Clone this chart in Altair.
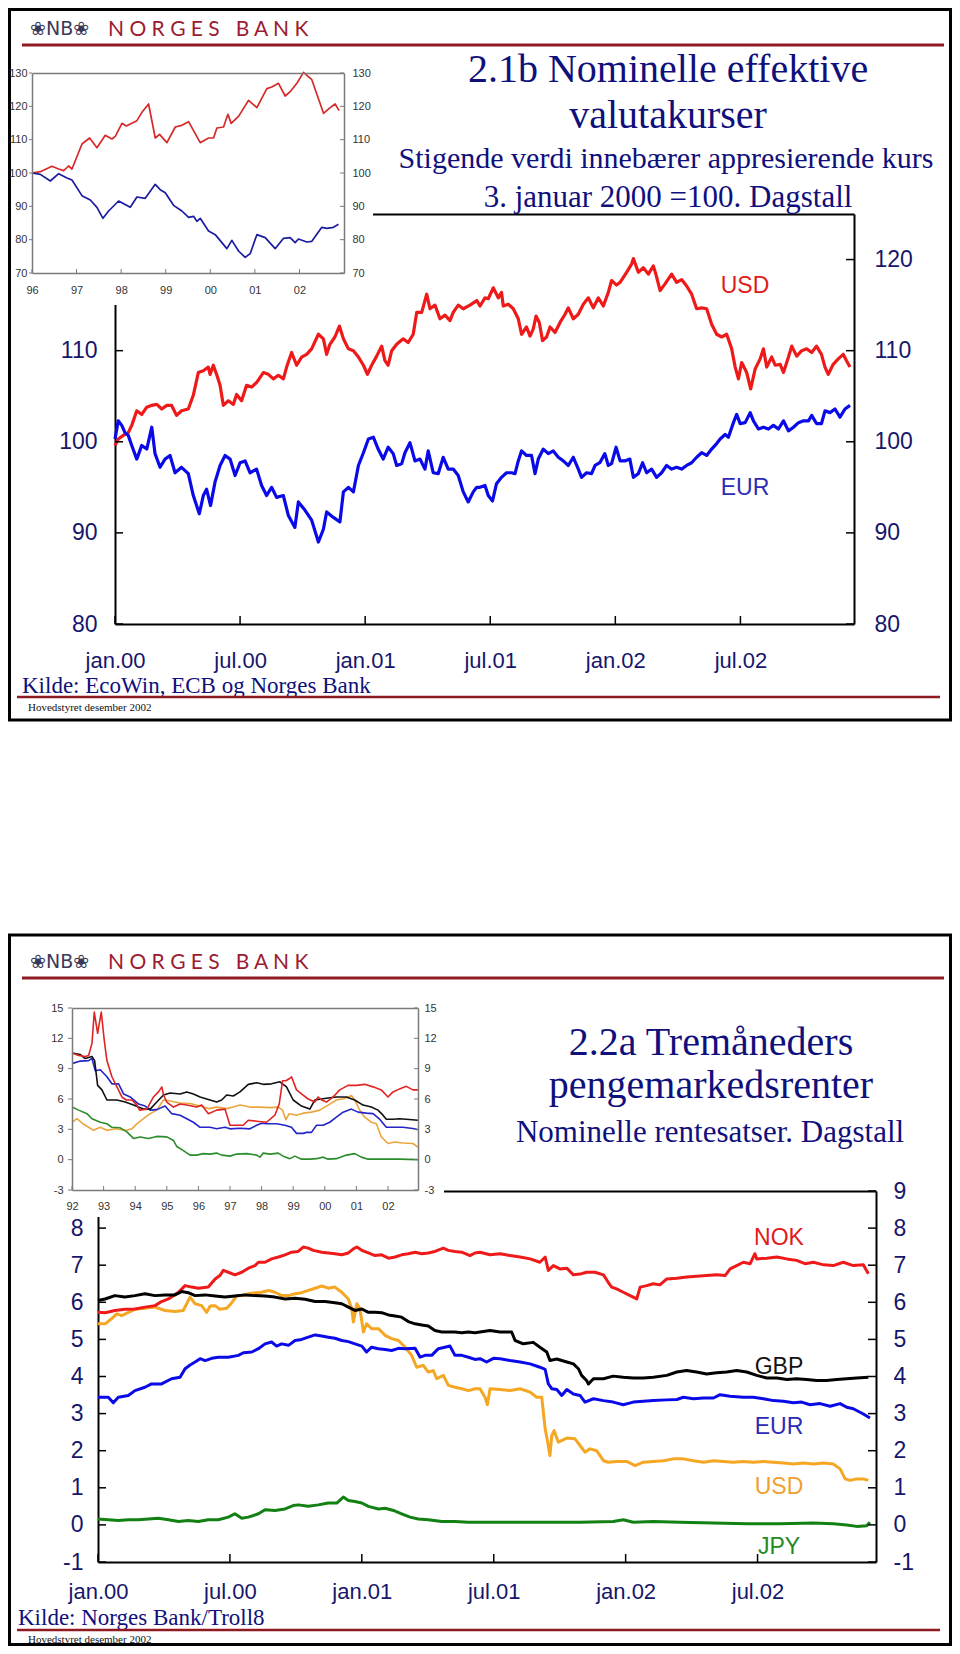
import altair as alt
import pandas as pd

# ======================= DATA =======================
# --- Slide 2.1b, inset (1996-2002), index ---
I1_XTICKS = [1996, 1997, 1998, 1999, 2000, 2001, 2002]
I1_YTICKS = [70, 80, 90, 100, 110, 120, 130]
I1_USD_T = [1996.000, 1996.187, 1996.448, 1996.598, 1996.710, 1996.822, 1996.897,
            1997.121, 1997.293, 1997.457, 1997.644, 1997.794, 1997.868,
            1998.018, 1998.115, 1998.354, 1998.466, 1998.616, 1998.765, 1998.862,
            1999.027, 1999.214, 1999.363, 1999.513, 1999.774, 1999.961,
            2000.073, 2000.148, 2000.297, 2000.395, 2000.469, 2000.634, 2000.858,
            2001.045, 2001.269, 2001.381, 2001.531, 2001.680, 2001.792, 2001.942,
            2002.091, 2002.278, 2002.540, 2002.689, 2002.801, 2002.891]
I1_USD = [100.0, 100.4, 102.0, 101.2, 100.7, 102.1, 101.2,
          108.7, 110.5, 107.6, 111.3, 110.2, 111.0,
          114.9, 114.1, 115.7, 118.2, 120.7, 110.5, 111.6,
          109.1, 113.8, 114.3, 115.4, 109.1, 110.5,
          110.5, 113.5, 113.8, 117.6, 114.9, 117.0, 121.8,
          119.6, 125.3, 125.8, 126.9, 123.1, 124.4, 126.9,
          130.2, 128.0, 117.9, 119.6, 120.7, 118.7]
I1_EUR_T = [1996.000, 1996.187, 1996.411, 1996.598, 1996.785, 1996.897,
            1997.121, 1997.308, 1997.457, 1997.592, 1997.719, 1997.943,
            1998.205, 1998.354, 1998.541, 1998.765, 1998.877, 1998.990,
            1999.176, 1999.363, 1999.513, 1999.625, 1999.700, 1999.774, 1999.961,
            2000.111, 2000.372, 2000.484, 2000.634, 2000.783, 2000.895,
            2001.045, 2001.232, 2001.456, 2001.643, 2001.792, 2001.904, 2001.979,
            2002.166, 2002.278, 2002.502, 2002.614, 2002.764, 2002.876]
I1_EUR = [100.0, 99.6, 97.6, 99.8, 98.5, 97.9,
          93.2, 91.9, 89.7, 86.4, 88.6, 91.6,
          89.7, 92.8, 92.4, 96.6, 95.0, 94.1,
          90.3, 88.6, 86.7, 87.0, 85.5, 86.4, 82.6,
          81.5, 77.3, 79.8, 76.6, 74.7, 75.8,
          81.5, 80.6, 77.3, 80.4, 80.6, 79.1, 80.2,
          79.3, 79.5, 83.7, 83.4, 83.7, 84.6]

# --- Slide 2.1b, main chart (daily, 3 Jan 2000 = 100) ---
MAIN_XTICKS = [2000, 2000.5, 2001, 2001.5, 2002, 2002.5]
MAIN_XLABELS = ["jan.00", "jul.00", "jan.01", "jul.01", "jan.02", "jul.02"]
M1_YTICKS = [80, 90, 100, 110, 120]
M1_YLABELS_LEFT = [80, 90, 100, 110]
M1_USD_T = [
    2000.000, 2000.013, 2000.033, 2000.053, 2000.067, 2000.087, 2000.107, 2000.127, 2000.147, 2000.167,
    2000.187, 2000.207, 2000.226, 2000.246, 2000.266, 2000.293, 2000.313, 2000.333, 2000.353, 2000.373,
    2000.380, 2000.393, 2000.406, 2000.420, 2000.433, 2000.453, 2000.473, 2000.486, 2000.506, 2000.526,
    2000.546, 2000.566, 2000.593, 2000.613, 2000.633, 2000.653, 2000.673, 2000.686, 2000.706, 2000.726,
    2000.746, 2000.766, 2000.786, 2000.813, 2000.833, 2000.846, 2000.859, 2000.879, 2000.897, 2000.913,
    2000.933, 2000.953, 2000.973, 2000.993, 2001.009, 2001.026, 2001.046, 2001.066, 2001.079, 2001.092,
    2001.106, 2001.126, 2001.152, 2001.172, 2001.192, 2001.206, 2001.226, 2001.246, 2001.259, 2001.279,
    2001.299, 2001.319, 2001.339, 2001.352, 2001.372, 2001.392, 2001.419, 2001.446,
    2001.459, 2001.479, 2001.492, 2001.512, 2001.532, 2001.545, 2001.552, 2001.572, 2001.592, 2001.612,
    2001.625, 2001.645, 2001.659, 2001.672, 2001.683, 2001.696, 2001.709, 2001.725, 2001.739, 2001.759,
    2001.779, 2001.799, 2001.812, 2001.832, 2001.852, 2001.872, 2001.892, 2001.912, 2001.932, 2001.952,
    2001.972, 2001.985, 2002.005, 2002.019, 2002.045, 2002.065, 2002.072, 2002.092, 2002.112, 2002.132,
    2002.152, 2002.162, 2002.179, 2002.198, 2002.225, 2002.245, 2002.265, 2002.285, 2002.305, 2002.325,
    2002.345, 2002.365, 2002.385, 2002.405, 2002.425, 2002.445, 2002.465, 2002.479, 2002.492, 2002.505,
    2002.525, 2002.541, 2002.559, 2002.579, 2002.592, 2002.605, 2002.625, 2002.639, 2002.659, 2002.672,
    2002.692, 2002.705, 2002.725, 2002.745, 2002.765, 2002.785, 2002.804, 2002.824, 2002.838, 2002.851,
    2002.871, 2002.891, 2002.911, 2002.924, 2002.938]
M1_USD = [
    99.6, 100.3, 100.7, 101.0, 101.8, 103.4, 103.0, 103.8, 104.0, 104.1,
    103.6, 104.0, 104.0, 102.9, 103.4, 103.6, 105.1, 107.6, 107.8, 108.2,
    107.4, 108.4, 107.4, 106.2, 104.0, 104.5, 104.1, 105.2, 104.5, 106.2,
    106.0, 106.5, 107.6, 107.4, 106.9, 107.3, 106.9, 108.2, 109.8, 108.4,
    109.3, 109.6, 110.2, 111.8, 111.3, 109.6, 110.7, 111.5, 112.7, 111.3,
    110.2, 110.0, 109.3, 108.4, 107.4, 108.4, 109.4, 110.5, 108.9, 108.4,
    110.0, 110.7, 111.3, 110.9, 111.8, 114.2, 114.2, 116.2, 114.6, 115.0,
    113.5, 113.9, 113.3, 114.2, 115.0, 114.6, 115.0, 115.5,
    114.9, 115.8, 115.7, 116.9, 115.8, 116.4, 114.9, 115.1, 114.6, 113.5,
    111.8, 112.6, 111.6, 112.4, 113.8, 113.1, 111.1, 111.5, 112.6, 112.0,
    113.1, 114.0, 114.7, 113.5, 114.0, 115.1, 115.8, 114.7, 115.8, 114.9,
    116.4, 117.7, 117.2, 117.5, 118.6, 119.5, 120.1, 118.6, 119.1, 118.4,
    119.3, 118.4, 116.6, 117.3, 118.4, 117.5, 117.8, 117.1, 116.2, 114.6,
    114.7, 114.6, 112.9, 111.8, 111.5, 111.8, 110.2, 108.2, 106.9, 108.7,
    107.6, 105.8, 108.0, 109.1, 110.2, 108.2, 109.3, 108.4, 108.5, 107.6,
    109.3, 110.5, 109.4, 110.0, 110.2, 109.8, 110.5, 109.6, 108.2, 107.4,
    108.5, 109.1, 109.6, 108.9, 108.2]
M1_EUR_T = [
    2000.000, 2000.013, 2000.027, 2000.040, 2000.053, 2000.067, 2000.087, 2000.107, 2000.127, 2000.147,
    2000.160, 2000.180, 2000.200, 2000.220, 2000.240, 2000.266, 2000.293, 2000.313, 2000.337, 2000.353,
    2000.366, 2000.382, 2000.400, 2000.420, 2000.440, 2000.460, 2000.480, 2000.500, 2000.520, 2000.540,
    2000.566, 2000.586, 2000.606, 2000.626, 2000.646, 2000.673, 2000.693, 2000.719, 2000.733, 2000.759,
    2000.786, 2000.813, 2000.833, 2000.846, 2000.873, 2000.899, 2000.913, 2000.933, 2000.953, 2000.973,
    2000.993, 2001.013, 2001.033, 2001.052, 2001.072, 2001.092, 2001.112, 2001.126, 2001.146, 2001.159,
    2001.179, 2001.199, 2001.219, 2001.239, 2001.252, 2001.272, 2001.292, 2001.312, 2001.332, 2001.352,
    2001.372, 2001.392, 2001.412, 2001.432, 2001.446,
    2001.459, 2001.479, 2001.492, 2001.509, 2001.525, 2001.545, 2001.565, 2001.585, 2001.599, 2001.612,
    2001.625, 2001.645, 2001.665, 2001.679, 2001.692, 2001.712, 2001.732, 2001.752, 2001.772, 2001.792,
    2001.812, 2001.832, 2001.852, 2001.865, 2001.885, 2001.905, 2001.919, 2001.938, 2001.958, 2001.972,
    2001.985, 2002.003, 2002.019, 2002.038, 2002.058, 2002.072, 2002.092, 2002.109, 2002.125, 2002.145,
    2002.165, 2002.185, 2002.205, 2002.225, 2002.245, 2002.265, 2002.285, 2002.305, 2002.325, 2002.345,
    2002.365, 2002.385, 2002.405, 2002.419, 2002.439, 2002.452, 2002.472, 2002.485, 2002.499, 2002.519,
    2002.539, 2002.552, 2002.572, 2002.592, 2002.612, 2002.632, 2002.652, 2002.672, 2002.692, 2002.712,
    2002.732, 2002.752, 2002.772, 2002.785, 2002.804, 2002.824, 2002.838, 2002.858, 2002.878, 2002.898,
    2002.918, 2002.938]
M1_EUR = [
    100.3, 102.3, 101.8, 101.0, 100.7, 99.6, 98.1, 99.6, 99.2, 101.6,
    98.7, 97.2, 98.1, 98.5, 96.6, 97.2, 96.5, 94.1, 92.1, 94.1,
    94.8, 93.0, 95.6, 97.4, 98.5, 98.1, 96.3, 97.7, 97.9, 96.6,
    97.0, 95.2, 94.1, 95.0, 93.9, 94.1, 91.9, 90.6, 93.4, 92.5,
    91.4, 89.0, 90.4, 92.3, 91.7, 91.2, 94.5, 95.0, 94.5, 97.4,
    98.8, 100.3, 100.5, 99.2, 98.1, 99.4, 98.7, 97.4, 97.6, 98.8,
    99.9, 97.9, 98.1, 97.0, 99.0, 96.6, 96.5, 98.3, 97.0, 97.0,
    96.3, 94.5, 93.4, 94.5, 95.0,
    95.0, 95.2, 94.1, 93.5, 95.4, 96.1, 96.6, 96.6, 96.5, 97.9,
    99.0, 98.5, 98.5, 96.5, 98.1, 99.2, 98.7, 99.0, 98.3, 97.9,
    97.4, 98.3, 97.0, 96.1, 96.6, 96.5, 97.4, 97.7, 98.7, 97.4,
    97.6, 99.4, 97.9, 97.9, 98.1, 96.1, 96.5, 97.7, 96.6, 97.0,
    96.1, 96.6, 97.4, 97.0, 97.2, 97.0, 97.4, 97.7, 98.3, 98.8,
    98.5, 99.2, 99.8, 100.3, 100.8, 100.5, 102.1, 103.0, 102.0, 102.1,
    103.2, 102.3, 101.4, 101.6, 101.4, 101.8, 101.4, 102.3, 101.2, 101.6,
    102.1, 102.3, 102.3, 102.9, 102.0, 102.0, 103.4, 103.2, 103.6, 102.7,
    103.6, 104.0]

# --- Slide 2.2a, inset (1992-2002), percent ---
I2_XTICKS = [1992, 1993, 1994, 1995, 1996, 1997, 1998, 1999, 2000, 2001, 2002]
I2_YTICKS = [-3, 0, 3, 6, 9, 12, 15]
I2_NOK_T = [1992.000, 1992.211, 1992.421, 1992.526, 1992.632, 1992.705, 1992.811, 1992.926, 1993.021, 1993.105,
            1993.263, 1993.421, 1993.579, 1993.716, 1993.895, 1994.053, 1994.137, 1994.368, 1994.579, 1994.737,
            1994.842, 1994.895, 1995.000, 1995.211, 1995.421, 1995.632, 1995.947, 1996.105, 1996.316, 1996.579,
            1996.842, 1997.000, 1997.421, 1997.579, 1997.842, 1998.158, 1998.421, 1998.558, 1998.663, 1998.768,
            1998.874, 1998.947, 1999.105, 1999.263, 1999.474, 1999.684, 1999.789, 1999.895, 2000.053, 2000.263,
            2000.474, 2000.737, 2001.000, 2001.263, 2001.526, 2001.789, 2002.000, 2002.158, 2002.368, 2002.579,
            2002.789, 2002.947]
I2_NOK = [10.55, 10.3, 10.2, 10.3, 11.5, 14.6, 12.5, 14.6, 11.8, 9.8,
          8.2, 7.2, 6.2, 5.9, 5.9, 5.4, 4.9, 5.0, 6.2, 6.7,
          7.2, 6.4, 5.7, 5.2, 5.5, 5.4, 5.2, 5.4, 4.55, 4.9,
          5.0, 3.4, 3.4, 3.9, 3.8, 3.7, 4.4, 5.5, 7.8, 7.8,
          8.0, 8.2, 6.9, 6.5, 6.0, 5.7, 6.2, 5.9, 5.7, 6.2,
          6.9, 7.35, 7.35, 7.45, 7.2, 6.9, 6.2, 6.7, 7.0, 7.25,
          6.9, 6.9]
I2_GBP_T = [1992.000, 1992.263, 1992.421, 1992.632, 1992.716, 1992.811, 1992.947, 1993.105, 1993.421, 1993.684,
            1993.947, 1994.263, 1994.474, 1994.684, 1994.895, 1995.105, 1995.421, 1995.632, 1995.842, 1996.053,
            1996.368, 1996.579, 1996.737, 1996.895, 1997.105, 1997.316, 1997.579, 1997.842, 1998.053, 1998.316,
            1998.579, 1998.789, 1999.000, 1999.263, 1999.526, 1999.684, 1999.895, 2000.105, 2000.368, 2000.684,
            2000.947, 2001.211, 2001.474, 2001.684, 2001.842, 2001.947, 2002.158, 2002.368, 2002.579, 2002.947]
I2_GBP = [10.55, 10.4, 10.0, 10.2, 9.8, 7.35, 6.9, 5.9, 5.9, 5.7,
          5.4, 5.0, 5.0, 5.7, 6.4, 6.6, 6.5, 6.7, 6.5, 6.2,
          5.9, 5.7, 5.9, 6.4, 6.3, 6.7, 7.45, 7.6, 7.45, 7.5,
          7.7, 7.2, 5.9, 5.3, 5.0, 5.9, 6.0, 6.1, 6.2, 6.2,
          5.9, 5.4, 5.2, 4.9, 4.4, 4.0, 4.0, 4.05, 4.0, 3.9]
I2_EUR_T = [1992.000, 1992.263, 1992.526, 1992.632, 1992.737, 1992.895, 1993.105, 1993.263, 1993.474, 1993.632,
            1993.842, 1994.105, 1994.316, 1994.474, 1994.684, 1994.947, 1995.158, 1995.421, 1995.632, 1995.842,
            1996.053, 1996.368, 1996.579, 1996.842, 1997.000, 1997.316, 1997.632, 1997.842, 1998.000, 1998.158,
            1998.474, 1998.737, 1998.947, 1999.105, 1999.316, 1999.421, 1999.579, 1999.737, 1999.947, 2000.158,
            2000.368, 2000.579, 2000.842, 2001.053, 2001.316, 2001.526, 2001.737, 2001.947, 2002.158, 2002.474,
            2002.842, 2002.947]
I2_EUR = [9.5, 9.75, 9.8, 10.0, 8.8, 8.9, 8.2, 7.5, 7.5, 6.5,
          6.2, 5.5, 5.3, 4.9, 4.95, 5.3, 4.55, 4.4, 4.05, 3.7,
          3.2, 3.2, 3.05, 3.2, 3.05, 3.1, 3.05, 3.4, 3.6, 3.55,
          3.55, 3.4, 3.2, 2.6, 2.6, 2.7, 2.7, 3.4, 3.4, 3.7,
          4.2, 4.7, 5.0, 4.7, 4.6, 4.55, 4.0, 3.2, 3.2, 3.2,
          3.05, 2.95]
I2_USD_T = [1992.000, 1992.158, 1992.368, 1992.684, 1992.895, 1993.105, 1993.368, 1993.737, 1993.895, 1994.053,
            1994.263, 1994.474, 1994.684, 1994.895, 1995.105, 1995.421, 1995.737, 1996.053, 1996.316, 1996.579,
            1996.895, 1997.105, 1997.316, 1997.632, 1997.947, 1998.263, 1998.526, 1998.663, 1998.768, 1998.874,
            1999.105, 1999.316, 1999.579, 1999.842, 2000.105, 2000.368, 2000.632, 2000.842, 2000.947, 2001.105,
            2001.263, 2001.474, 2001.632, 2001.789, 2002.000, 2002.211, 2002.474, 2002.789, 2002.947]
I2_USD = [3.7, 4.05, 3.5, 2.9, 3.2, 2.9, 3.05, 2.9, 3.05, 3.55,
          4.05, 4.55, 4.9, 5.9, 5.8, 5.6, 5.55, 5.3, 5.05, 5.2,
          5.05, 5.2, 5.4, 5.2, 5.2, 5.15, 5.2, 4.9, 3.95, 4.55,
          4.4, 4.6, 4.7, 4.9, 5.4, 5.9, 6.05, 6.35, 5.9, 4.9,
          4.2, 3.7, 3.55, 2.25, 1.6, 1.75, 1.65, 1.6, 1.25]
I2_JPY_T = [1992.000, 1992.211, 1992.474, 1992.632, 1992.895, 1993.105, 1993.263, 1993.526, 1993.737, 1993.947,
            1994.158, 1994.421, 1994.684, 1995.000, 1995.211, 1995.316, 1995.526, 1995.737, 1995.947, 1996.158,
            1996.368, 1996.579, 1996.737, 1997.000, 1997.211, 1997.526, 1997.842, 1997.947, 1998.053, 1998.263,
            1998.526, 1998.684, 1998.895, 1999.053, 1999.263, 1999.526, 1999.737, 1999.947, 2000.105, 2000.368,
            2000.684, 2000.947, 2001.158, 2001.368, 2001.842, 2002.368, 2002.947]
I2_JPY = [5.2, 4.9, 4.55, 4.05, 3.7, 3.55, 3.2, 3.15, 2.75, 2.1,
          2.25, 2.1, 2.3, 2.25, 1.9, 1.3, 0.9, 0.45, 0.45, 0.6,
          0.55, 0.65, 0.45, 0.35, 0.55, 0.6, 0.45, 0.25, 0.65, 0.55,
          0.65, 0.35, 0.1, 0.35, 0.05, 0.05, 0.1, 0.25, 0.05, 0.1,
          0.45, 0.6, 0.25, 0.05, 0.05, 0.05, 0.0]

# --- Slide 2.2a, main chart (daily 3-month rates) ---
M2_YTICKS = [-1, 0, 1, 2, 3, 4, 5, 6, 7, 8, 9]
M2_YLABELS_LEFT = [-1, 0, 1, 2, 3, 4, 5, 6, 7, 8]
M2_NOK_T = [
    2000.000, 2000.027, 2000.064, 2000.102, 2000.140, 2000.178, 2000.216, 2000.241, 2000.267, 2000.305,
    2000.330, 2000.355, 2000.380, 2000.418, 2000.444, 2000.462, 2000.475, 2000.494, 2000.519, 2000.545,
    2000.570, 2000.595, 2000.608, 2000.633, 2000.658, 2000.684, 2000.709, 2000.734, 2000.759, 2000.778,
    2000.797, 2000.816, 2000.848, 2000.873, 2000.898, 2000.924, 2000.949, 2000.968, 2000.981, 2001.000,
    2001.025, 2001.050, 2001.075, 2001.101, 2001.126, 2001.151, 2001.176, 2001.202, 2001.227, 2001.252,
    2001.277, 2001.309, 2001.328, 2001.353, 2001.379, 2001.410, 2001.429,
    2001.448, 2001.486, 2001.524, 2001.562, 2001.600, 2001.638, 2001.675, 2001.695, 2001.707, 2001.726,
    2001.751, 2001.777, 2001.802, 2001.827, 2001.852, 2001.884, 2001.916, 2001.934, 2001.947, 2001.966,
    2001.991, 2002.017, 2002.042, 2002.055, 2002.080, 2002.105, 2002.130, 2002.156, 2002.194, 2002.231,
    2002.269, 2002.307, 2002.345, 2002.377, 2002.396, 2002.421, 2002.446, 2002.472, 2002.490, 2002.497,
    2002.535, 2002.573, 2002.611, 2002.648, 2002.680, 2002.712, 2002.750, 2002.787, 2002.825, 2002.863,
    2002.901, 2002.920]
M2_NOK = [
    5.73, 5.72, 5.78, 5.81, 5.82, 5.87, 5.91, 6.02, 6.09, 6.27,
    6.45, 6.41, 6.38, 6.41, 6.63, 6.72, 6.86, 6.81, 6.74, 6.81,
    6.92, 6.99, 7.08, 7.08, 7.17, 7.22, 7.28, 7.35, 7.37, 7.49,
    7.46, 7.40, 7.35, 7.33, 7.31, 7.28, 7.33, 7.44, 7.49, 7.40,
    7.33, 7.26, 7.28, 7.19, 7.22, 7.28, 7.31, 7.35, 7.31, 7.33,
    7.37, 7.46, 7.40, 7.37, 7.35, 7.26, 7.33,
    7.35, 7.28, 7.31, 7.26, 7.22, 7.17, 7.08, 7.22, 6.86, 6.99,
    6.90, 6.92, 6.74, 6.76, 6.81, 6.81, 6.74, 6.54, 6.41, 6.36,
    6.27, 6.18, 6.09, 6.41, 6.45, 6.50, 6.47, 6.63, 6.65, 6.68,
    6.70, 6.72, 6.74, 6.72, 6.90, 6.99, 7.08, 7.04, 7.31, 7.17,
    7.19, 7.22, 7.17, 7.13, 7.04, 7.08, 7.01, 6.99, 7.08, 6.99,
    7.01, 6.77]
M2_GBP_T = [
    2000.000, 2000.027, 2000.064, 2000.102, 2000.140, 2000.178, 2000.216, 2000.254, 2000.292, 2000.317,
    2000.342, 2000.368, 2000.406, 2000.444, 2000.481, 2000.519, 2000.557, 2000.595, 2000.633, 2000.671,
    2000.709, 2000.747, 2000.785, 2000.823, 2000.861, 2000.898, 2000.924, 2000.949, 2000.974, 2001.000,
    2001.025, 2001.050, 2001.075, 2001.101, 2001.126, 2001.151, 2001.176, 2001.202, 2001.227, 2001.252,
    2001.277, 2001.303, 2001.328, 2001.353, 2001.379, 2001.404, 2001.429,
    2001.448, 2001.486, 2001.524, 2001.568, 2001.581, 2001.612, 2001.650, 2001.675, 2001.701, 2001.713,
    2001.739, 2001.777, 2001.802, 2001.821, 2001.833, 2001.852, 2001.859, 2001.878, 2001.916, 2001.953,
    2001.991, 2002.029, 2002.067, 2002.105, 2002.156, 2002.194, 2002.231, 2002.269, 2002.307, 2002.345,
    2002.383, 2002.421, 2002.459, 2002.497, 2002.535, 2002.573, 2002.611, 2002.648, 2002.686, 2002.724,
    2002.762, 2002.800, 2002.838, 2002.876, 2002.920]
M2_GBP = [
    6.05, 6.09, 6.18, 6.14, 6.18, 6.23, 6.18, 6.20, 6.20, 6.29,
    6.26, 6.18, 6.20, 6.17, 6.14, 6.17, 6.20, 6.18, 6.17, 6.14,
    6.09, 6.11, 6.08, 6.02, 6.02, 5.99, 5.96, 5.87, 5.78, 5.82,
    5.73, 5.73, 5.72, 5.66, 5.63, 5.60, 5.48, 5.42, 5.39, 5.36,
    5.24, 5.20, 5.20, 5.20, 5.18, 5.20, 5.18,
    5.20, 5.24, 5.20, 5.20, 4.97, 4.88, 4.92, 4.79, 4.66, 4.43,
    4.47, 4.39, 4.34, 4.21, 4.03, 3.89, 3.80, 3.94, 3.94, 4.01,
    3.98, 3.96, 3.96, 3.98, 4.03, 4.12, 4.16, 4.12, 4.07, 4.10,
    4.12, 4.16, 4.12, 4.03, 3.96, 3.96, 3.92, 3.94, 3.92, 3.89,
    3.89, 3.92, 3.94, 3.96, 3.98]
M2_EUR_T = [
    2000.000, 2000.039, 2000.058, 2000.077, 2000.115, 2000.140, 2000.178, 2000.203, 2000.241, 2000.279,
    2000.311, 2000.330, 2000.349, 2000.368, 2000.387, 2000.406, 2000.431, 2000.456, 2000.494, 2000.532,
    2000.551, 2000.583, 2000.608, 2000.633, 2000.658, 2000.677, 2000.696, 2000.722, 2000.747, 2000.772,
    2000.797, 2000.823, 2000.848, 2000.873, 2000.898, 2000.924, 2000.949, 2000.974, 2001.000, 2001.018,
    2001.037, 2001.063, 2001.088, 2001.113, 2001.139, 2001.164, 2001.202, 2001.221, 2001.240, 2001.265,
    2001.290, 2001.315, 2001.334, 2001.353, 2001.379, 2001.404, 2001.429,
    2001.448, 2001.473, 2001.499, 2001.524, 2001.562, 2001.600, 2001.638, 2001.675, 2001.695, 2001.707,
    2001.720, 2001.739, 2001.758, 2001.777, 2001.802, 2001.827, 2001.846, 2001.878, 2001.916, 2001.953,
    2001.991, 2002.029, 2002.067, 2002.105, 2002.156, 2002.194, 2002.219, 2002.257, 2002.295, 2002.333,
    2002.358, 2002.396, 2002.446, 2002.484, 2002.522, 2002.560, 2002.598, 2002.636, 2002.667, 2002.699,
    2002.737, 2002.775, 2002.813, 2002.838, 2002.863, 2002.901, 2002.926]
M2_EUR = [
    3.44, 3.44, 3.29, 3.44, 3.49, 3.62, 3.71, 3.80, 3.80, 3.94,
    3.98, 4.21, 4.31, 4.39, 4.48, 4.43, 4.49, 4.52, 4.52, 4.57,
    4.64, 4.66, 4.75, 4.88, 4.93, 4.82, 4.88, 4.84, 4.97, 5.00,
    5.06, 5.12, 5.09, 5.06, 5.03, 4.97, 4.94, 4.88, 4.82, 4.66,
    4.79, 4.75, 4.73, 4.70, 4.76, 4.75, 4.76, 4.52, 4.57, 4.57,
    4.75, 4.79, 4.82, 4.57, 4.57, 4.52, 4.46,
    4.48, 4.39, 4.49, 4.48, 4.43, 4.39, 4.34, 4.25, 4.19, 3.80,
    3.67, 3.65, 3.49, 3.65, 3.53, 3.49, 3.31, 3.40, 3.35, 3.31,
    3.24, 3.31, 3.33, 3.35, 3.37, 3.38, 3.44, 3.40, 3.42, 3.42,
    3.51, 3.47, 3.44, 3.44, 3.40, 3.35, 3.33, 3.29, 3.31, 3.24,
    3.27, 3.20, 3.27, 3.17, 3.13, 2.99, 2.88]
M2_USD_T = [
    2000.000, 2000.027, 2000.052, 2000.071, 2000.090, 2000.115, 2000.140, 2000.178, 2000.216, 2000.254,
    2000.292, 2000.323, 2000.349, 2000.368, 2000.393, 2000.412, 2000.425, 2000.444, 2000.462, 2000.488,
    2000.507, 2000.526, 2000.551, 2000.570, 2000.595, 2000.620, 2000.646, 2000.671, 2000.696, 2000.722,
    2000.747, 2000.772, 2000.797, 2000.823, 2000.848, 2000.873, 2000.898, 2000.924, 2000.949, 2000.962,
    2000.968, 2000.981, 2000.993, 2001.006, 2001.018, 2001.037, 2001.063, 2001.088, 2001.113, 2001.139,
    2001.164, 2001.189, 2001.208, 2001.233, 2001.252, 2001.271, 2001.284, 2001.309, 2001.328, 2001.353,
    2001.379, 2001.404, 2001.429,
    2001.448, 2001.467, 2001.476, 2001.486, 2001.524, 2001.562, 2001.600, 2001.638, 2001.663, 2001.682,
    2001.695, 2001.707, 2001.713, 2001.720, 2001.729, 2001.745, 2001.777, 2001.808, 2001.827, 2001.846,
    2001.865, 2001.890, 2001.916, 2001.934, 2001.966, 2002.004, 2002.036, 2002.067, 2002.105, 2002.143,
    2002.181, 2002.219, 2002.257, 2002.295, 2002.333, 2002.370, 2002.408, 2002.446, 2002.484, 2002.522,
    2002.560, 2002.598, 2002.636, 2002.674, 2002.712, 2002.750, 2002.787, 2002.813, 2002.832, 2002.851,
    2002.876, 2002.901, 2002.920]
M2_USD = [
    5.42, 5.42, 5.56, 5.69, 5.64, 5.73, 5.81, 5.84, 5.87, 5.78,
    5.75, 5.78, 6.14, 5.96, 5.91, 5.73, 5.90, 5.91, 5.81, 5.84,
    5.99, 6.18, 6.18, 6.23, 6.26, 6.27, 6.32, 6.27, 6.18, 6.18,
    6.23, 6.26, 6.32, 6.38, 6.44, 6.38, 6.41, 6.27, 6.09, 5.82,
    5.47, 5.96, 5.82, 5.20, 5.42, 5.29, 5.29, 5.11, 5.02, 4.97,
    4.79, 4.57, 4.25, 4.30, 4.12, 4.16, 3.94, 4.03, 3.76, 3.71,
    3.67, 3.62, 3.67,
    3.67, 3.44, 3.24, 3.67, 3.65, 3.62, 3.67, 3.58, 3.44, 3.44,
    2.59, 2.14, 1.87, 2.41, 2.54, 2.23, 2.34, 2.32, 2.14, 1.96,
    2.05, 2.00, 1.73, 1.69, 1.71, 1.71, 1.60, 1.69, 1.71, 1.73,
    1.78, 1.78, 1.73, 1.69, 1.73, 1.71, 1.69, 1.71, 1.69, 1.71,
    1.69, 1.67, 1.64, 1.67, 1.64, 1.67, 1.64, 1.51, 1.24, 1.20,
    1.24, 1.24, 1.20]
M2_JPY_T = [
    2000.000, 2000.039, 2000.077, 2000.115, 2000.153, 2000.191, 2000.229, 2000.267, 2000.305, 2000.342,
    2000.380, 2000.418, 2000.456, 2000.494, 2000.519, 2000.545, 2000.570, 2000.608, 2000.633, 2000.671,
    2000.709, 2000.740, 2000.759, 2000.797, 2000.835, 2000.873, 2000.905, 2000.930, 2000.949, 2000.974,
    2001.000, 2001.025, 2001.063, 2001.088, 2001.120, 2001.151, 2001.183, 2001.214, 2001.252, 2001.303,
    2001.353, 2001.404,
    2001.448, 2001.575, 2001.701, 2001.827, 2001.953, 2001.991, 2002.029, 2002.105, 2002.206, 2002.333,
    2002.459, 2002.585, 2002.712, 2002.787, 2002.838, 2002.876, 2002.914, 2002.926]
M2_JPY = [
    0.16, 0.14, 0.12, 0.14, 0.14, 0.16, 0.18, 0.14, 0.09, 0.12,
    0.09, 0.14, 0.14, 0.21, 0.30, 0.18, 0.21, 0.30, 0.41, 0.39,
    0.43, 0.52, 0.54, 0.50, 0.54, 0.59, 0.59, 0.75, 0.66, 0.63,
    0.59, 0.50, 0.43, 0.45, 0.39, 0.30, 0.21, 0.16, 0.14, 0.09,
    0.09, 0.07,
    0.07, 0.07, 0.07, 0.07, 0.09, 0.14, 0.07, 0.09, 0.07, 0.05,
    0.03, 0.03, 0.05, 0.03, 0.00, -0.04, -0.02, 0.07]

# ======================= LAYOUT / STYLE =======================
W, H, M = 944, 1638, 8
SANS = "Liberation Sans, Arial, sans-serif"
SERIF = "Liberation Serif, Times New Roman, serif"
NAVY = "#10107c"
AXNAVY = "#16166a"
MAROON = "#8e1a22"
NUM_EXPR = "toString(datum.value)"

def P(v):
    return v - M

def lscale(dom, a, b):
    return alt.Scale(domain=list(dom), range=[P(a), P(b)], nice=False, zero=False)

DUMMY = pd.DataFrame({"k": [0]})

def ax(orient, pos, dom_color, dom_w, z, vals=None, size=12, color="#333", pad=5,
       expr=None, align=None, baseline=None):
    kw = dict(orient=orient, grid=False, ticks=False, tickSize=0, title=None,
              domainColor=dom_color, domainWidth=dom_w, zindex=z)
    if orient == "bottom":
        kw["offset"] = P(pos) - H
    elif orient == "top":
        kw["offset"] = -P(pos)
    elif orient == "left":
        kw["offset"] = -P(pos)
    else:
        kw["offset"] = P(pos) - W
    if vals is None:
        kw["labels"] = False
    else:
        kw.update(values=vals, labelFont=SANS, labelFontSize=size, labelColor=color,
                  labelPadding=pad, labelFlush=False, labelOverlap=False,
                  labelExpr=expr if expr else NUM_EXPR)
        if align:
            kw["labelAlign"] = align
        if baseline:
            kw["labelBaseline"] = baseline
    return alt.Axis(**kw)

def series(ts, vs, color, width, xs, ys, xaxis=None, yaxis=None):
    pairs = list(zip(ts, vs))
    df = pd.DataFrame({"t": [p[0] for p in pairs], "v": [p[1] for p in pairs]})
    return alt.Chart(df).mark_line(color=color, strokeWidth=width, strokeJoin="round").encode(
        x=alt.X("t:Q", scale=xs, axis=xaxis),
        y=alt.Y("v:Q", scale=ys, axis=yaxis),
    )

def yticks(vals, ys, xa, xb, color, width=1.5):
    return alt.Chart(pd.DataFrame({"v": vals})).mark_rule(color=color, strokeWidth=width).encode(
        y=alt.Y("v:Q", scale=ys, axis=None), x=alt.value(P(xa)), x2=alt.value(P(xb)))

def xticks(vals, xs, ya, yb, color, width=1.5):
    return alt.Chart(pd.DataFrame({"t": vals})).mark_rule(color=color, strokeWidth=width).encode(
        x=alt.X("t:Q", scale=xs, axis=None), y=alt.value(P(ya)), y2=alt.value(P(yb)))

def text(txt, x, y, size, color, font=SANS, align="left", baseline="alphabetic"):
    return alt.Chart(DUMMY).mark_text(text=txt, font=font, fontSize=size, color=color,
                                      align=align, baseline=baseline).encode(
        x=alt.value(P(x)), y=alt.value(P(y)))

def hline(x0, x1, y, color, width):
    return alt.Chart(DUMMY).mark_rule(color=color, strokeWidth=width).encode(
        x=alt.value(P(x0)), x2=alt.value(P(x1)), y=alt.value(P(y)))

def box(x0, x1, y0, y1, **kw):
    return alt.Chart(DUMMY).mark_rect(**kw).encode(
        x=alt.value(x0), x2=alt.value(x1), y=alt.value(y0), y2=alt.value(y1))

MAIN_XEXPR = " : ".join(
    f"datum.value == {v} ? '{l}'" for v, l in zip(MAIN_XTICKS, MAIN_XLABELS)) + " : ''"
YEAR2_EXPR = "substring(toString(datum.value), 2, 4)"

layers = []

# ---------------- main chart 1 ----------------
m1x = lscale([2000, 2002.954], 115, 854)
m1y = lscale([80, 125], 624, 214)
layers.append(series(M1_USD_T, M1_USD, "#ee1a1a", 3.2, m1x, m1y,
                     xaxis=ax("bottom", 624, "black", 2, 0, MAIN_XTICKS, 22, AXNAVY, 36,
                              expr=MAIN_XEXPR, baseline="middle"),
                     yaxis=ax("left", 115, "black", 2, 0, M1_YLABELS_LEFT, 23, AXNAVY, 18,
                              align="right", baseline="middle")))
layers.append(series(M1_EUR_T, M1_EUR, "#0a0ae8", 3.2, m1x, m1y,
                     xaxis=ax("top", 214, "black", 2, 0),
                     yaxis=ax("right", 854, "black", 2, 0, M1_YTICKS, 23, AXNAVY, 20,
                              align="left", baseline="middle")))
layers.append(yticks(M1_YTICKS, m1y, 115, 123, "black"))
layers.append(yticks(M1_YTICKS, m1y, 854, 846, "black"))
layers.append(xticks(MAIN_XTICKS, m1x, 624, 616, "black"))

# ---------------- main chart 2 ----------------
m2x = lscale([2000, 2002.949], 98, 876)
m2y = lscale([-1, 9], 1562, 1191)
layers.append(series(M2_USD_T, M2_USD, "#f5a623", 3.0, m2x, m2y,
                     xaxis=ax("bottom", 1562, "black", 2, 0, MAIN_XTICKS, 22, AXNAVY, 29,
                              expr=MAIN_XEXPR, baseline="middle"),
                     yaxis=ax("left", 98, "black", 2, 0, M2_YLABELS_LEFT, 23, AXNAVY, 15,
                              align="right", baseline="middle")))
layers.append(series(M2_NOK_T, M2_NOK, "#ee1a1a", 3.0, m2x, m2y,
                     xaxis=ax("top", 1191, "black", 2, 0),
                     yaxis=ax("right", 876, "black", 2, 0, M2_YTICKS, 23, AXNAVY, 17,
                              align="left", baseline="middle")))
layers.append(series(M2_GBP_T, M2_GBP, "#000000", 3.0, m2x, m2y))
layers.append(series(M2_EUR_T, M2_EUR, "#0a0ae8", 3.0, m2x, m2y))
layers.append(series(M2_JPY_T, M2_JPY, "#138013", 3.0, m2x, m2y))
layers.append(yticks(M2_YTICKS, m2y, 98, 106, "black"))
layers.append(yticks(M2_YTICKS, m2y, 876, 868, "black"))
layers.append(xticks(MAIN_XTICKS, m2x, 1562, 1554, "black"))

# ---------------- masks under the insets ----------------
layers.append(box(P(10), P(373), P(50), P(305), fill="white"))
layers.append(box(P(10), P(444), P(985), P(1217), fill="white"))

# ---------------- inset 1 ----------------
GRAY = "#7a7a7a"
i1x = lscale([1996, 2003], 32, 344)
i1y = lscale([70, 130], 273, 73)
layers.append(series(I1_USD_T, I1_USD, "#d42a2a", 1.7, i1x, i1y,
                     xaxis=ax("bottom", 273, GRAY, 1.5, 1, I1_XTICKS, 11, "#333", 17,
                              expr=YEAR2_EXPR, baseline="middle"),
                     yaxis=ax("left", 32, GRAY, 1.5, 1, I1_YTICKS, 11, "#333", 5,
                              align="right", baseline="middle")))
layers.append(series(I1_EUR_T, I1_EUR, "#1c1ca2", 1.7, i1x, i1y,
                     xaxis=ax("top", 73, GRAY, 1.5, 1),
                     yaxis=ax("right", 344, GRAY, 1.5, 1, I1_YTICKS, 11, "#333", 8,
                              align="left", baseline="middle")))
layers.append(yticks(I1_YTICKS, i1y, 29, 32, GRAY, 1))
layers.append(yticks(I1_YTICKS, i1y, 344, 340, GRAY, 1))
layers.append(xticks(I1_XTICKS, i1x, 273, 269, GRAY, 1))

# ---------------- inset 2 ----------------
i2x = lscale([1992, 2002.95], 72, 418)
i2y = lscale([-3, 15], 1190, 1008)
layers.append(series(I2_USD_T, I2_USD, "#eaa63c", 1.6, i2x, i2y,
                     xaxis=ax("bottom", 1190, GRAY, 1.5, 1, I2_XTICKS, 11, "#333", 16,
                              expr=YEAR2_EXPR, baseline="middle"),
                     yaxis=ax("left", 72, GRAY, 1.5, 1, I2_YTICKS, 11, "#333", 9,
                              align="right", baseline="middle")))
layers.append(series(I2_JPY_T, I2_JPY, "#2a8c2a", 1.6, i2x, i2y,
                     xaxis=ax("top", 1008, GRAY, 1.5, 1),
                     yaxis=ax("right", 418, GRAY, 1.5, 1, I2_YTICKS, 11, "#333", 6,
                              align="left", baseline="middle")))
layers.append(series(I2_EUR_T, I2_EUR, "#2424c8", 1.6, i2x, i2y))
layers.append(series(I2_GBP_T, I2_GBP, "#111111", 1.6, i2x, i2y))
layers.append(series(I2_NOK_T, I2_NOK, "#e02424", 1.6, i2x, i2y))
layers.append(yticks(I2_YTICKS, i2y, 68, 72, GRAY, 1))
layers.append(yticks(I2_YTICKS, i2y, 418, 414, GRAY, 1))
layers.append(xticks(I2_XTICKS, i2x, 1190, 1186, GRAY, 1))

# ---------------- slide decorations and texts ----------------
NB_WORDMARK = "N O R G E S\u00a0\u00a0\u00a0B A N K"
for top, hl in [(0, 45), (933, 978)]:
    layers.append(text("❀NB❀", 30, top + 35, 19, "#3a3a58", font="DejaVu Sans"))
    layers.append(text(NB_WORDMARK, 108, top + 36, 21, "#9b1b32", font="Lato"))
    layers.append(hline(22, 944, hl, MAROON, 3))

# titles slide 1
layers.append(text("2.1b Nominelle effektive", 668, 82, 40, NAVY, font=SERIF, align="center"))
layers.append(text("valutakurser", 668, 128, 40, NAVY, font=SERIF, align="center"))
layers.append(text("Stigende verdi innebærer appresierende kurs", 666, 168, 30, NAVY, font=SERIF, align="center"))
layers.append(text("3. januar 2000 =100. Dagstall", 668, 207, 31, NAVY, font=SERIF, align="center"))
layers.append(text("USD", 745, 286, 23, "#e01b1b", align="center", baseline="middle"))
layers.append(text("EUR", 745, 488, 23, "#2b2bb5", align="center", baseline="middle"))
layers.append(text("Kilde: EcoWin, ECB og Norges Bank", 22, 693, 23, NAVY, font=SERIF))
layers.append(hline(17, 940, 697, MAROON, 2.5))
layers.append(text("Hovedstyret  desember 2002", 28, 708, 11, "#111", font=SERIF, baseline="middle"))

# titles slide 2
layers.append(text("2.2a Tremåneders", 711, 1055, 40, NAVY, font=SERIF, align="center"))
layers.append(text("pengemarkedsrenter", 711, 1098, 40, NAVY, font=SERIF, align="center"))
layers.append(text("Nominelle rentesatser. Dagstall", 710, 1142, 31, NAVY, font=SERIF, align="center"))
layers.append(text("NOK", 779, 1238, 23, "#e01b1b", align="center", baseline="middle"))
layers.append(text("GBP", 779, 1367, 23, "#111111", align="center", baseline="middle"))
layers.append(text("EUR", 779, 1427, 23, "#2b2bb5", align="center", baseline="middle"))
layers.append(text("USD", 779, 1487, 23, "#f0a030", align="center", baseline="middle"))
layers.append(text("JPY", 779, 1547, 23, "#1f8a1f", align="center", baseline="middle"))
layers.append(text("Kilde: Norges Bank/Troll8", 18, 1625, 23, NAVY, font=SERIF))
layers.append(hline(17, 940, 1630, MAROON, 2.5))
layers.append(text("Hovedstyret  desember 2002", 28, 1640, 11, "#111", font=SERIF, baseline="middle"))

# slide borders
layers.append(box(1.5, W - 1.5, 1.5, P(720), fillOpacity=0, stroke="black", strokeWidth=3))
layers.append(box(1.5, W - 1.5, P(935), H - 1.5, fillOpacity=0, stroke="black", strokeWidth=3))

chart = (
    alt.layer(*layers)
    .resolve_scale(x="independent", y="independent")
    .resolve_axis(x="independent", y="independent")
    .properties(width=W, height=H, autosize=alt.AutoSizeParams(type="none"), padding=0)
    .configure_view(stroke=None)
)

chart.save("out.html", embed_options={"renderer": "svg", "actions": False})
